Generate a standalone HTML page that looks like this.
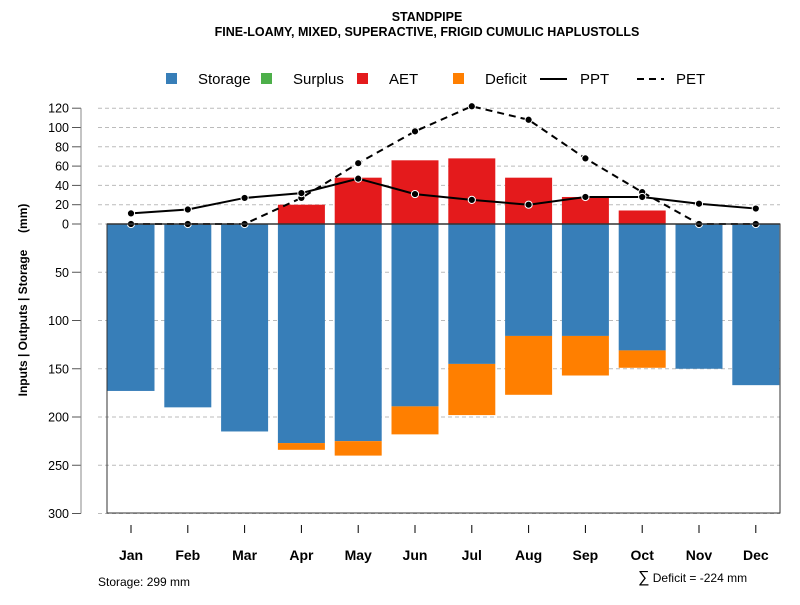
<!DOCTYPE html>
<html><head><meta charset="utf-8"><style>
body{margin:0;background:#fff;font-family:"Liberation Sans",sans-serif}
svg text{font-family:"Liberation Sans",sans-serif}
</style></head><body>
<svg id="c" width="800" height="600" viewBox="0 0 800 600" xmlns="http://www.w3.org/2000/svg">
<text x="427" y="21" text-anchor="middle" font-size="12.5" font-weight="bold">STANDPIPE</text>
<text x="427" y="36" text-anchor="middle" font-size="12.5" font-weight="bold">FINE-LOAMY, MIXED, SUPERACTIVE, FRIGID CUMULIC HAPLUSTOLLS</text>
<g font-size="15">
<g><rect x="166" y="73" width="11" height="11" fill="#377EB8"/><text x="198" y="84">Storage</text></g>
<g><rect x="261" y="73" width="11" height="11" fill="#4DAF4A"/><text x="293" y="84">Surplus</text></g>
<g><rect x="357" y="73" width="11" height="11" fill="#E41A1C"/><text x="389" y="84">AET</text></g>
<g><rect x="453" y="73" width="11" height="11" fill="#FF7F00"/><text x="485" y="84">Deficit</text></g>
<g><line x1="540" y1="79" x2="567" y2="79" stroke="#000" stroke-width="2"/><text x="580" y="84">PPT</text></g>
<g><line x1="637" y1="79" x2="664" y2="79" stroke="#000" stroke-width="2" stroke-dasharray="7,5"/><text x="676" y="84">PET</text></g>
</g>
<g id="grid"></g><g id="bars"></g><g id="lines"></g><g id="axes"></g>
<text transform="translate(27,300) rotate(-90)" text-anchor="middle" font-size="12" font-weight="bold" xml:space="preserve">Inputs | Outputs | Storage     (mm)</text>
<text x="98" y="586" font-size="12">Storage: 299 mm</text>
<text x="638" y="582" font-size="12"><tspan font-size="16">∑</tspan> Deficit = -224 mm</text>
</svg>
<script>
const months=["Jan","Feb","Mar","Apr","May","Jun","Jul","Aug","Sep","Oct","Nov","Dec"];
const storage=[173,190,215,227,225,189,145,116,116,131,150,167];
const deficit=[0,0,0,7,15,29,53,61,41,18,0,0];
const aet=[0,0,0,20,48,66,68,48,28,14,0,0];
const ppt=[11,15,27,32,47,31,25,20,28,28,21,16];
const pet=[0,0,0,27,63,96,122,108,68,33,0,0];
const posTicks=[0,20,40,60,80,100,120];
const negTicks=[50,100,150,200,250,300];
const NS="http://www.w3.org/2000/svg";
const y0=224,k=0.965;
const Y=v=>y0-v*k;
const X=i=>131+i*56.8;
const bw=47;
function mk(tag,attrs,parent){const e=document.createElementNS(NS,tag);for(const a in attrs)e.setAttribute(a,attrs[a]);document.getElementById(parent).appendChild(e);return e;}
posTicks.concat(negTicks.map(v=>-v)).forEach(v=>{
 const g=mk('line',{x1:98,x2:780,y1:Y(v),y2:Y(v),stroke:'#bbb','stroke-dasharray':'4,3'},'grid');
 
 
 const t=mk('line',{x1:72,x2:81,y1:Y(v),y2:Y(v),stroke:'#555'},'axes');
 
 
 const l=mk('text',{x:69,y:Y(v)+4.5,'text-anchor':'end','font-size':'12.5'},'axes');
 l.textContent=Math.abs(v);
 
 
});
const ya=mk('line',{x1:81,x2:81,y1:Y(120),y2:Y(-300),stroke:'#888'},'axes');


months.forEach((m,i)=>{
 const x=X(i);
 const s=mk('rect',{x:x-bw/2,y:y0,width:bw,height:storage[i]*k,fill:'#377EB8'},'bars');
 
 
 if(deficit[i]>0){const d=mk('rect',{x:x-bw/2,y:Y(-storage[i]),width:bw,height:deficit[i]*k,fill:'#FF7F00'},'bars');
 
 }
 if(aet[i]>0){const a=mk('rect',{x:x-bw/2,y:Y(aet[i]),width:bw,height:aet[i]*k,fill:'#E41A1C'},'bars');
 
 }
 const t=mk('line',{x1:x,x2:x,y1:525,y2:533,stroke:'#000'},'axes');
 
 
 const l=mk('text',{x:x,y:560,'text-anchor':'middle','font-size':'14','font-weight':'bold'},'axes');
 l.textContent=m;
 
 
});
const fr=mk('path',{d:`M107,${y0} V513 H780 V${y0} Z`,fill:'none',stroke:'#333'},'axes');


const xa=mk('line',{x1:107,x2:780,y1:y0,y2:y0,stroke:'#333','stroke-width':1.5},'axes');


[[pet,'7,5','pet-line'],[ppt,null,'ppt-line']].forEach(([arr,da,name])=>{
 const p=mk('polyline',{points:arr.map((v,i)=>X(i)+','+Y(v)).join(' '),fill:'none',stroke:'#000','stroke-width':2},'lines');
 if(da)p.setAttribute('stroke-dasharray',da);
 
 
 arr.forEach((v,i)=>{const c=mk('circle',{cx:X(i),cy:Y(v),r:3.6,fill:'#000',stroke:'#fff','stroke-width':1},'lines');
 
 });
});
</script>
</body></html>
